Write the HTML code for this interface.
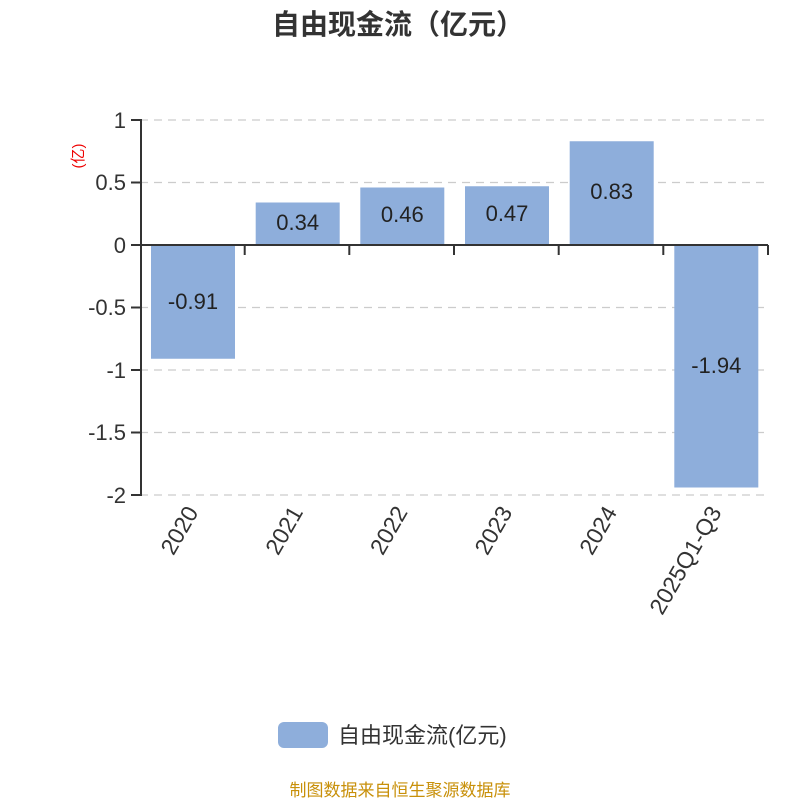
<!DOCTYPE html>
<html><head><meta charset="utf-8"><style>body{margin:0;background:#fff}svg{display:block}</style></head>
<body>
<svg width="800" height="800" xmlns="http://www.w3.org/2000/svg" font-family="'Liberation Sans','Noto Sans CJK SC',sans-serif">
<text x="398" y="34" text-anchor="middle" font-size="28" font-weight="bold" fill="#333">自由现金流（亿元）</text>
<g stroke="#ccc" stroke-width="1.3" stroke-dasharray="8,6">
<line x1="140" x2="768" y1="120" y2="120"/><line x1="140" x2="768" y1="182.5" y2="182.5"/>
<line x1="140" x2="768" y1="307.5" y2="307.5"/><line x1="140" x2="768" y1="370" y2="370"/>
<line x1="140" x2="768" y1="432.5" y2="432.5"/><line x1="140" x2="768" y1="495" y2="495"/>
</g>
<g fill="#8eaedb">
<rect x="151" y="245" width="84" height="113.75"/>
<rect x="255.7" y="202.5" width="84" height="42.5"/>
<rect x="360.3" y="187.5" width="84" height="57.5"/>
<rect x="465" y="186.25" width="84" height="58.75"/>
<rect x="569.7" y="141.25" width="84" height="103.75"/>
<rect x="674.3" y="245" width="84" height="242.5"/>
</g>
<g stroke="#333" stroke-width="2" fill="none">
<line x1="141" y1="119" x2="141" y2="496"/>
<line x1="131" y1="120" x2="141" y2="120"/><line x1="131" y1="182.5" x2="141" y2="182.5"/>
<line x1="131" y1="245" x2="141" y2="245"/><line x1="131" y1="307.5" x2="141" y2="307.5"/>
<line x1="131" y1="370" x2="141" y2="370"/><line x1="131" y1="432.5" x2="141" y2="432.5"/>
<line x1="131" y1="495" x2="141" y2="495"/>
<line x1="140" y1="245" x2="768" y2="245"/>
<line x1="244.7" y1="245" x2="244.7" y2="255"/><line x1="349.3" y1="245" x2="349.3" y2="255"/>
<line x1="454" y1="245" x2="454" y2="255"/><line x1="558.7" y1="245" x2="558.7" y2="255"/>
<line x1="663.3" y1="245" x2="663.3" y2="255"/><line x1="768" y1="245" x2="768" y2="255"/>
</g>
<g font-size="22" fill="#333" text-anchor="end">
<text x="126" y="128">1</text><text x="126" y="190">0.5</text><text x="126" y="253">0</text>
<text x="126" y="315">-0.5</text><text x="126" y="378">-1</text><text x="126" y="440">-1.5</text><text x="126" y="503">-2</text>
</g>
<text transform="translate(83,156) rotate(-90)" text-anchor="middle" font-size="15" fill="#e00">(亿)</text>
<g font-size="22" fill="#222" text-anchor="middle">
<text x="193" y="309">-0.91</text><text x="297.7" y="230">0.34</text><text x="402.3" y="222">0.46</text>
<text x="507" y="221">0.47</text><text x="611.7" y="199">0.83</text><text x="716.3" y="373">-1.94</text>
</g>
<g font-size="23" fill="#333" text-anchor="end">
<text transform="translate(199,512) rotate(-60)">2020</text>
<text transform="translate(303.7,512) rotate(-60)">2021</text>
<text transform="translate(408.3,512) rotate(-60)">2022</text>
<text transform="translate(513,512) rotate(-60)">2023</text>
<text transform="translate(617.7,512) rotate(-60)">2024</text>
<text transform="translate(722.3,512) rotate(-60)">2025Q1-Q3</text>
</g>
<rect x="278" y="722" width="50" height="26" rx="6" fill="#8eaedb"/>
<text x="338" y="743" font-size="22" fill="#333">自由现金流(亿元)</text>
<text x="400" y="796" text-anchor="middle" font-size="17" fill="#c8900a">制图数据来自恒生聚源数据库</text>
</svg>
</body></html>
